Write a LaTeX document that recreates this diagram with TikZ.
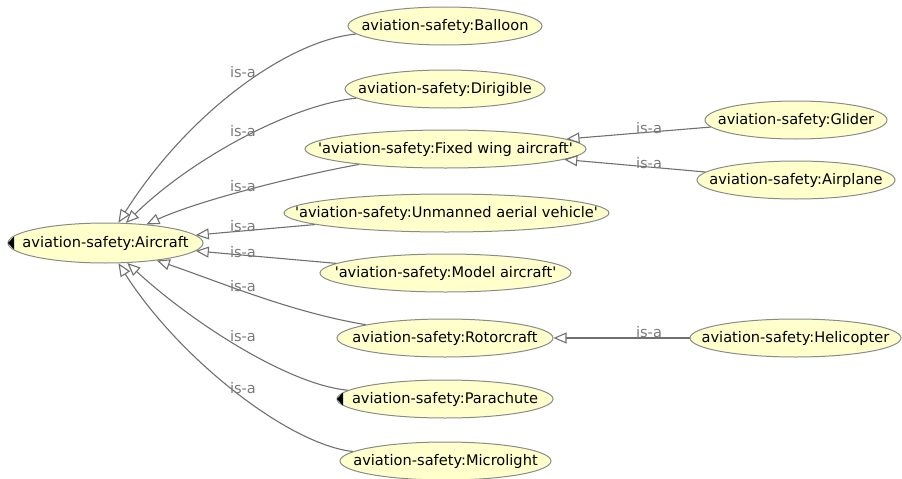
\documentclass[tikz,border=0pt]{standalone}
\usepackage{fontspec}
\setmainfont{DejaVu Sans}
\usetikzlibrary{shapes.geometric, arrows.meta}
\definecolor{ClassFill}{HTML}{FFFFCC}
\definecolor{ClassLine}{HTML}{8A8A8A}
\definecolor{EdgeGray}{HTML}{707070}
\definecolor{LabelGray}{HTML}{7A7A7A}
\newcommand{\clstext}[1]{\makebox[0pt]{#1}}

\begin{document}
\begin{tikzpicture}[x=1pt,y=1pt,yscale=-1,xscale=1,
		cls/.style={ellipse, draw=ClassLine, fill=ClassFill, line width=1pt, inner sep=0pt, minimum height=38, font=\fontsize{14.6}{16}\selectfont},
		isa/.style={draw=EdgeGray, line width=1.1pt, -{Triangle[open, length=13pt, width=11pt]}},
		isalabel/.style={text=LabelGray, inner sep=0.75pt, font=\fontsize{14.6}{16}\selectfont}]
		% Set diagram size to 902 x 479
		\useasboundingbox (0,0) rectangle (902,479);

		% The root class on the left
		\node[cls, minimum width=195, minimum height=40] (aircraft) at (105.5,243) {\clstext{aviation-safety:Aircraft}};

		% The column of direct subclasses
		\node[cls, minimum width=194] (balloon) at (445,26) {\clstext{aviation-safety:Balloon}};
		\node[cls, minimum width=200] (dirigible) at (445,89) {\clstext{aviation-safety:Dirigible}};
		\node[cls, minimum width=281] (fixedwing) at (445.5,149) {\clstext{\textquotesingle aviation-safety:Fixed wing aircraft\textquotesingle}};
		\node[cls, minimum width=325] (uav) at (446.5,213) {\clstext{\textquotesingle aviation-safety:Unmanned aerial vehicle\textquotesingle}};
		\node[cls, minimum width=251] (model) at (445.5,273) {\clstext{\textquotesingle aviation-safety:Model aircraft\textquotesingle}};
		\node[cls, minimum width=216] (rotorcraft) at (445,338) {\clstext{aviation-safety:Rotorcraft}};
		\node[cls, minimum width=216] (parachute) at (445,399) {\clstext{aviation-safety:Parachute}};
		\node[cls, minimum width=211] (microlight) at (445.5,461) {\clstext{aviation-safety:Microlight}};

		% The column of second level subclasses
		\node[cls, minimum width=182] (glider) at (796,120) {\clstext{aviation-safety:Glider}};
		\node[cls, minimum width=198] (airplane) at (796,180) {\clstext{aviation-safety:Airplane}};
		\node[cls, minimum width=211] (helicopter) at (795.5,338) {\clstext{aviation-safety:Helicopter}};

		% Black markers for collapsed classes
		\fill[black] ([xshift=0.5pt]aircraft.west) -- ++(6,-6.5) -- ++(0,13) -- cycle;
		\fill[black] ([xshift=0.5pt]parachute.west) -- ++(6,-6.5) -- ++(0,13) -- cycle;

		% is-a edges into Aircraft
		\draw[isa] (balloon) .. controls (290,40) and (190,110) .. (aircraft);
		\draw[isa] (dirigible) .. controls (290,105) and (190,160) .. (aircraft);
		\draw[isa] (fixedwing) .. controls (300,175) and (200,200) .. (aircraft);
		\draw[isa] (uav) -- (aircraft);
		\draw[isa] (model) -- (aircraft);
		\draw[isa] (rotorcraft) .. controls (290,312) and (220,282) .. (aircraft);
		\draw[isa] (parachute) .. controls (290,385) and (195,325) .. (aircraft);
		\draw[isa] (microlight) .. controls (290,445) and (180,360) .. (aircraft);

		% is-a edges on the right
		\draw[isa] (glider) -- (fixedwing);
		\draw[isa] (airplane) -- (fixedwing);
		\draw[isa] (helicopter) -- (rotorcraft);

		% Edge labels
		\node[isalabel] (isa1) at (243,72) {is-a};
		\node[isalabel] (isa2) at (243,131) {is-a};
		\node[isalabel] (isa3) at (243,186) {is-a};
		\node[isalabel] (isa4) at (243,226) {is-a};
		\node[isalabel] (isa5) at (243,252) {is-a};
		\node[isalabel] (isa6) at (243,286) {is-a};
		\node[isalabel] (isa7) at (243,336) {is-a};
		\node[isalabel] (isa8) at (243,388) {is-a};
		\node[isalabel] (isa9) at (649,128) {is-a};
		\node[isalabel] (isa10) at (649,163) {is-a};
		\node[isalabel] (isa11) at (649,332) {is-a};
\end{tikzpicture}
\end{document}
